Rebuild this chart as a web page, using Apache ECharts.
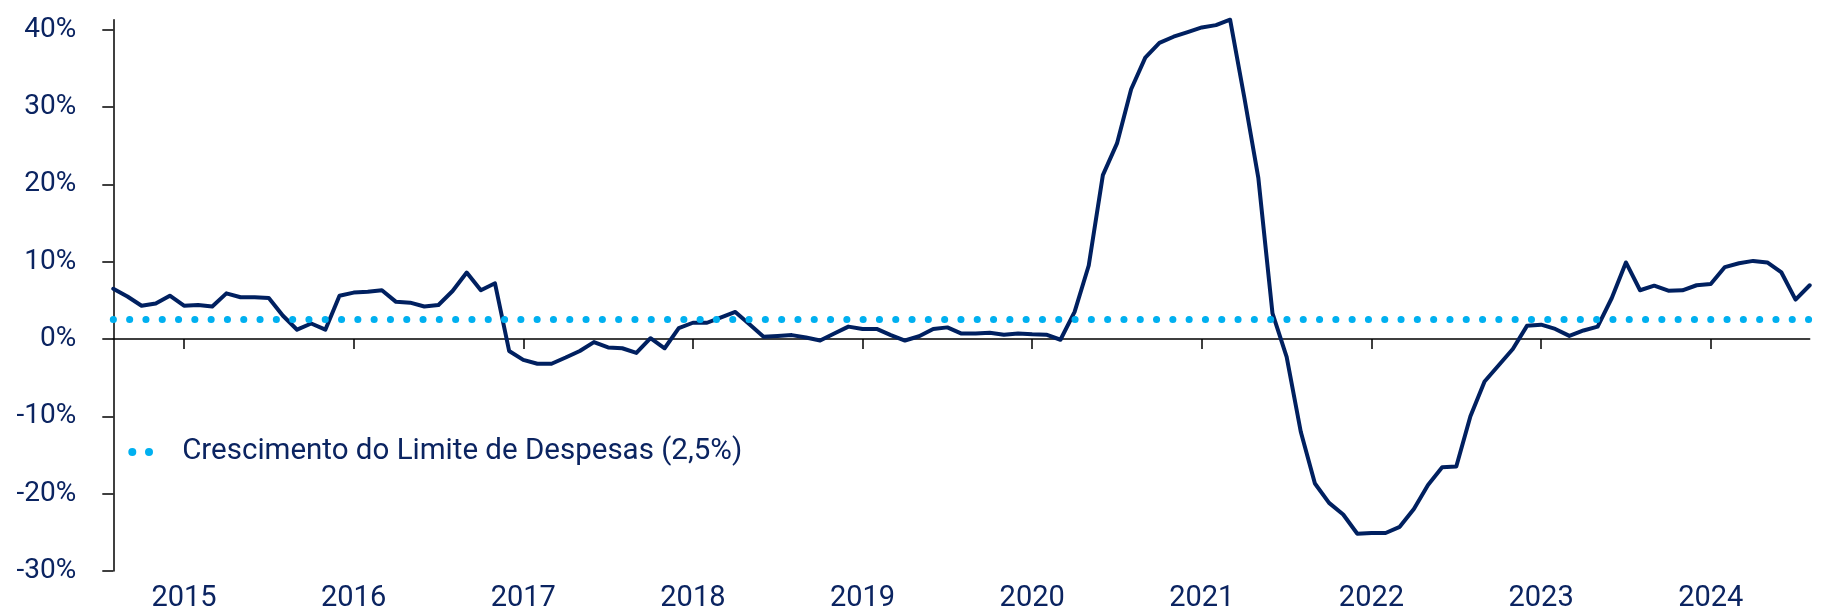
<!DOCTYPE html>
<html>
<head>
<meta charset="utf-8">
<script src="https://cdn.jsdelivr.net/npm/echarts@6/dist/echarts.min.js"></script>
<style>
  html, body { margin: 0; padding: 0; background: #ffffff; }
  #chart { width: 1824px; height: 614px; }
</style>
</head>
<body>
<div id="chart"></div>
<script>
// ---- Data (monthly, Aug 2014 – Aug 2024), year-on-year growth in % ----
const startYear = 2014;
const startMonth = 8;
const months = [];
for (let k = 0; k < 121; k++) {
  const m0 = startMonth - 1 + k;
  const y = startYear + Math.floor(m0 / 12);
  const m = (m0 % 12) + 1;
  months.push(y + '-' + String(m).padStart(2, '0'));
}

const growth = [
  6.5, 5.5, 4.3, 4.6, 5.6, 4.3, 4.4, 4.2, 5.9, 5.4, 5.4, 5.3, 3.0, 1.2, 2.0, 1.2, 5.6, 6.0, 6.1, 6.3,
  4.8, 4.7, 4.2, 4.4, 6.2, 8.6, 6.3, 7.2, -1.55,
  -2.7, -3.2, -3.2, -2.4, -1.55, -0.4, -1.1, -1.2, -1.8, 0.1, -1.2, 1.4, 2.1, 2.1, 2.8, 3.5, 1.9, 0.3,
  0.4, 0.5, 0.2, -0.2, 0.7, 1.6, 1.3, 1.3, 0.5, -0.2, 0.35, 1.3, 1.5, 0.7, 0.7, 0.8, 0.55, 0.7,
  0.6, 0.55, -0.1, 3.5, 9.5, 21.2, 25.3, 32.3, 36.4, 38.3, 39.1, 39.7, 40.3, 40.6, 41.3, 31.3, 20.8,
  3.3, -2.3, -12.0, -18.7, -21.2, -22.7, -25.2, -25.1, -25.1, -24.3, -22.0, -18.9, -16.6, -16.5,
  -10.0, -5.5, -3.4, -1.3,
  1.7, 1.85, 1.3, 0.4, 1.1, 1.6, 5.3, 9.9, 6.3, 6.9, 6.25, 6.3, 6.95, 7.1, 9.3, 9.8, 10.1, 9.9,
  8.6, 5.1, 6.95
];

const limitValue = 2.5;
const limitName = 'Crescimento do Limite de Despesas (2,5%)';
const yTicks = [-30, -20, -10, 0, 10, 20, 30, 40];

const NAVY = '#002060';
const CYAN = '#00B0F0';
const TEXT = '#0B2461';
const FONT = 'Roboto, "Noto Sans", sans-serif';

const isJanuary = (idx, val) => String(val).slice(5) === '01';

const chart = echarts.init(document.getElementById('chart'), null, { renderer: 'canvas' });

chart.setOption({
  animation: false,
  backgroundColor: '#ffffff',
  grid: { left: 113.3, right: 14.3, top: 19.7, bottom: 43.1, containLabel: false },
  legend: {
    left: 123.3,
    top: 430,
    padding: 5,
    itemWidth: 25,
    itemHeight: 8,
    selectedMode: false,
    data: [{
      name: limitName,
      icon: 'path://M0,4a4,4 0 1,0 8,0a4,4 0 1,0 -8,0M16.7,4a4,4 0 1,0 8,0a4,4 0 1,0 -8,0',
      itemStyle: { color: CYAN, borderWidth: 0 }
    }],
    textStyle: {
      color: TEXT,
      fontFamily: FONT,
      fontSize: 29.5,
      lineHeight: 34,
      padding: [0, 0, 0, 24]
    }
  },
  xAxis: [
    {
      type: 'category',
      data: months,
      boundaryGap: false,
      position: 'bottom',
      axisLine: { show: true, onZero: true, lineStyle: { color: '#000000', width: 1.5 } },
      axisTick: { show: true, interval: isJanuary, length: 10, lineStyle: { color: '#000000', width: 1.5 } },
      axisLabel: { show: false },
      splitLine: { show: false }
    },
    {
      type: 'category',
      data: months,
      boundaryGap: false,
      position: 'bottom',
      axisLine: { show: false, onZero: false },
      axisTick: { show: false },
      axisLabel: {
        show: true,
        interval: isJanuary,
        margin: 13,
        color: TEXT,
        fontFamily: FONT,
        fontSize: 29,
        formatter: (v) => v.slice(0, 4)
      },
      splitLine: { show: false }
    }
  ],
  yAxis: {
    type: 'value',
    min: -30,
    max: 41.3,
    interval: 10,
    position: 'left',
    axisLine: { show: true, onZero: false, lineStyle: { color: '#000000', width: 1.5 } },
    axisTick: { show: true, length: 11, customValues: yTicks, lineStyle: { color: '#000000', width: 1.5 } },
    axisLabel: {
      show: true,
      customValues: yTicks,
      margin: 37,
      color: TEXT,
      fontFamily: FONT,
      fontSize: 28,
      formatter: (v) => (Math.abs(v % 10) < 1e-9 ? v + '%' : '')
    },
    splitLine: { show: false }
  },
  series: [
    {
      name: 'Despesa',
      type: 'line',
      xAxisIndex: 0,
      data: growth,
      symbol: 'none',
      clip: false,
      lineStyle: { color: NAVY, width: 4, join: 'round', cap: 'round' },
      itemStyle: { color: NAVY },
      z: 3
    },
    {
      name: limitName,
      type: 'line',
      xAxisIndex: 0,
      data: [],
      symbol: 'none',
      color: CYAN,
      itemStyle: { color: CYAN },
      lineStyle: { color: CYAN },
      markLine: {
        silent: true,
        symbol: ['none', 'none'],
        label: { show: false },
        lineStyle: { color: CYAN, width: 7, type: [0.1, 16.2], cap: 'round' },
        emphasis: { disabled: true },
        data: [{ yAxis: limitValue }]
      },
      z: 2
    }
  ]
});
</script>
</body>
</html>
